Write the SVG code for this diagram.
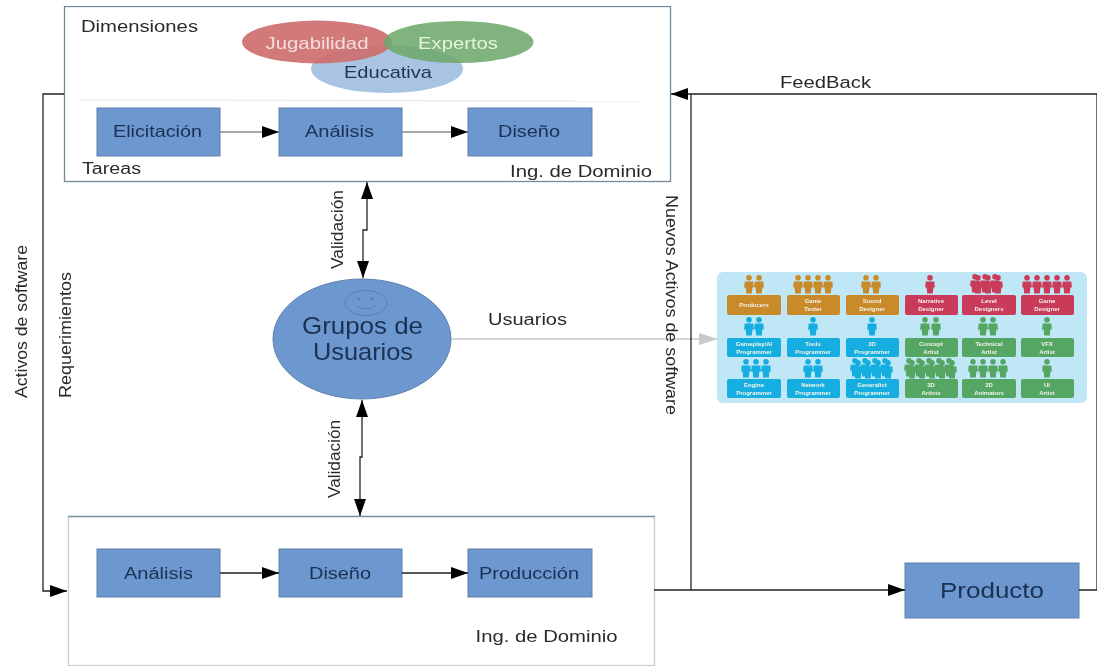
<svg xmlns="http://www.w3.org/2000/svg" width="1106" height="667" viewBox="0 0 1106 667">
<style>
text{font-family:"Liberation Sans",Arial,sans-serif}
.frame{fill:#fff;stroke:#6f8a9c;stroke-width:1.3}
.box{fill:#6c97cf;stroke:#5d80ac;stroke-width:1}
.bt{font-size:16px;fill:#1c3054;text-anchor:middle}
.lbl{font-size:16px;fill:#2b2b2b}
.ln{fill:none;stroke:#222;stroke-width:1.3}
.gl{fill:none;stroke:#8a8a8a;stroke-width:1.5}
.cap{font-size:6px;font-weight:bold;fill:#f4f4ea;text-anchor:middle}
.o{fill:#c98a2c}.r{fill:#c93a58}.c{fill:#15aee0}.g{fill:#55a564}
</style>
<defs>
<marker id="a" markerUnits="userSpaceOnUse" markerWidth="18" markerHeight="14" refX="17" refY="7" orient="auto-start-reverse"><path d="M0 1L17 7L0 13Z" fill="#000"/></marker>
<marker id="ag" markerUnits="userSpaceOnUse" markerWidth="20" markerHeight="14" refX="19" refY="7" orient="auto"><path d="M0 1L19 7L0 13Z" fill="#c9c9c9"/></marker>
<path id="p" d="M0 0a2.8 2.800 0 1 1 0 5.600a2.800 2.800 0 1 1 0-5.600ZM-4.300 6.500h8.600l.6 6h-1.500l-.6 6h-5.600l-.6-6h-1.500Z"/>
<filter id="soft" x="-5%" y="-5%" width="110%" height="110%"><feGaussianBlur stdDeviation="0.75"/></filter>
<filter id="jpeg" x="0" y="0" width="100%" height="100%"><feGaussianBlur stdDeviation="0.3"/></filter>
</defs>
<rect width="1106" height="667" fill="#fff"/>
<g filter="url(#jpeg)">
<g id="dominio-superior">
<rect class="frame" x="64.500" y="6.500" width="606" height="175"/>
<line x1="80" y1="100" x2="640" y2="101" stroke="#eeeeee" stroke-width="1.500"/>
<text class="lbl" x="81" y="32" textLength="117" lengthAdjust="spacingAndGlyphs">Dimensiones</text>
<text class="lbl" x="82" y="174" textLength="59" lengthAdjust="spacingAndGlyphs">Tareas</text>
<text class="lbl" x="510" y="177" textLength="142" lengthAdjust="spacingAndGlyphs">Ing. de Dominio</text>
</g>
<g id="educativa"><ellipse cx="387" cy="69" rx="76" ry="24" fill="#a9c4e2"/></g>
<g id="jugabilidad"><ellipse cx="317" cy="42" rx="75" ry="21.500" fill="#cf6f6f" opacity=".93"/><text x="317" y="49" text-anchor="middle" font-size="17" fill="#f3dede" textLength="103" lengthAdjust="spacingAndGlyphs">Jugabilidad</text></g>
<g id="expertos"><ellipse cx="458.500" cy="42" rx="75" ry="21" fill="#6ea86b" opacity=".88"/><text x="458" y="49" text-anchor="middle" font-size="17" fill="#e6f3df" textLength="80" lengthAdjust="spacingAndGlyphs">Expertos</text></g>
<text class="bt" x="388" y="78" textLength="88" lengthAdjust="spacingAndGlyphs" style="fill:#1f3558;font-size:17px">Educativa</text>
<g id="elicitacion"><rect class="box" x="97" y="108" width="123" height="48"/><text class="bt" x="157.500" y="137" textLength="89" lengthAdjust="spacingAndGlyphs">Elicitación</text></g>
<g id="analisis-1"><rect class="box" x="279" y="108" width="123" height="48"/><text class="bt" x="339.500" y="137" textLength="69" lengthAdjust="spacingAndGlyphs">Análisis</text></g>
<g id="diseno-1"><rect class="box" x="468" y="108" width="124" height="48"/><text class="bt" x="529" y="137" textLength="62" lengthAdjust="spacingAndGlyphs">Diseño</text></g>

<g id="dominio-inferior">
<rect class="frame" x="68.500" y="516.500" width="586" height="149" style="stroke:#c4ced4"/>
<line x1="68" y1="516.500" x2="655" y2="516.500" stroke="#7d929f" stroke-width="1.300"/>
<text class="lbl" x="475.500" y="642" textLength="142" lengthAdjust="spacingAndGlyphs">Ing. de Dominio</text>
</g>
<g id="analisis-2"><rect class="box" x="97" y="549" width="123" height="48"/><text class="bt" x="158.500" y="579" textLength="69" lengthAdjust="spacingAndGlyphs">Análisis</text></g>
<g id="diseno-2"><rect class="box" x="279" y="549" width="123" height="48"/><text class="bt" x="340" y="579" textLength="62" lengthAdjust="spacingAndGlyphs">Diseño</text></g>
<g id="produccion"><rect class="box" x="468" y="549" width="124" height="48"/><text class="bt" x="529" y="579" textLength="100" lengthAdjust="spacingAndGlyphs">Producción</text></g>
<g id="producto"><rect class="box" x="905" y="563" width="174" height="55"/><text x="992" y="598" text-anchor="middle" font-size="22" fill="#1c3054" textLength="104" lengthAdjust="spacingAndGlyphs">Producto</text></g>

<g id="grupos-de-usuarios">
<ellipse cx="362" cy="339" rx="89" ry="60" fill="#6c97cf" stroke="#5d80ac"/>
<ellipse cx="366" cy="303" rx="21" ry="12.500" fill="none" stroke="#5580b8" stroke-width="1"/>
<circle cx="359" cy="299" r="1.300" fill="#5580b8"/><circle cx="372" cy="299" r="1.300" fill="#5580b8"/>
<path d="M357 306Q366 312 375 306" fill="none" stroke="#5580b8"/>
<text x="362.500" y="334" text-anchor="middle" font-size="24" fill="#1c3054" textLength="121" lengthAdjust="spacingAndGlyphs">Grupos de</text>
<text x="363" y="360" text-anchor="middle" font-size="24" fill="#1c3054" textLength="100" lengthAdjust="spacingAndGlyphs">Usuarios</text>
</g>

<g id="conectores">
<path class="gl" d="M220 132H279" marker-end="url(#a)"/>
<path class="gl" d="M402 132H468" marker-end="url(#a)"/>
<path class="ln" d="M220 573H279" marker-end="url(#a)"/>
<path class="ln" d="M402 573H468" marker-end="url(#a)"/>
<path class="ln" d="M367 182V230H363V278" marker-start="url(#a)" marker-end="url(#a)"/>
<path class="ln" d="M362 400V457H360V516" marker-start="url(#a)" marker-end="url(#a)"/>
<path d="M452 339H718" fill="none" stroke="#c9c9c9" stroke-width="1.600" marker-end="url(#ag)"/>
<path class="ln" d="M64 94H43V591H67" marker-end="url(#a)"/>
<path class="ln" d="M654 590H905" marker-end="url(#a)"/>
<path class="ln" d="M691 590V94"/>
<path class="ln" d="M1079 590H1097V94H671" marker-end="url(#a)"/>
</g>

<g id="etiquetas">
<text class="lbl" x="780" y="88" textLength="91" lengthAdjust="spacingAndGlyphs">FeedBack</text>
<text class="lbl" x="488" y="325" textLength="79" lengthAdjust="spacingAndGlyphs">Usuarios</text>
<text class="lbl" transform="translate(343 269) rotate(-90)" textLength="79" lengthAdjust="spacingAndGlyphs">Validación</text>
<text class="lbl" transform="translate(340 498) rotate(-90)" textLength="78" lengthAdjust="spacingAndGlyphs">Validación</text>
<text class="lbl" transform="translate(27 398) rotate(-90)" textLength="153" lengthAdjust="spacingAndGlyphs">Activos de software</text>
<text class="lbl" transform="translate(71 398) rotate(-90)" textLength="126" lengthAdjust="spacingAndGlyphs">Requerimientos</text>
<text class="lbl" transform="translate(666 195) rotate(90)" textLength="220" lengthAdjust="spacingAndGlyphs">Nuevos Activos de software</text>
</g>

<g id="roles" filter="url(#soft)">
<rect x="717" y="272" width="370" height="131" rx="6" fill="#bfe7f5"/>
<g class="o">
<rect x="727" y="295" width="54" height="20" rx="2"/><rect x="787" y="295" width="53" height="20" rx="2"/><rect x="846" y="295" width="53" height="20" rx="2"/>
<use href="#p" x="749" y="275"/><use href="#p" x="759" y="275"/>
<use href="#p" x="798" y="275"/><use href="#p" x="808" y="275"/><use href="#p" x="818" y="275"/><use href="#p" x="828" y="275"/>
<use href="#p" x="866" y="275"/><use href="#p" x="876" y="275"/>
</g>
<g class="r">
<rect x="905" y="295" width="53" height="20" rx="2"/><rect x="962" y="295" width="54" height="20" rx="2"/><rect x="1021" y="295" width="53" height="20" rx="2"/>
<use href="#p" x="930" y="275"/>
<use href="#p" x="975" y="274"/><use href="#p" x="985" y="274"/><use href="#p" x="995" y="274"/>
<use href="#p" x="978" y="275"/><use href="#p" x="988" y="275"/><use href="#p" x="998" y="275"/>
<use href="#p" x="1027" y="275"/><use href="#p" x="1037" y="275"/><use href="#p" x="1047" y="275"/><use href="#p" x="1057" y="275"/><use href="#p" x="1067" y="275"/>
</g>
<g class="c">
<rect x="727" y="338" width="54" height="19" rx="2"/><rect x="787" y="338" width="53" height="19" rx="2"/><rect x="846" y="338" width="53" height="19" rx="2"/>
<rect x="727" y="379" width="54" height="19" rx="2"/><rect x="787" y="379" width="53" height="19" rx="2"/><rect x="846" y="379" width="53" height="19" rx="2"/>
<use href="#p" x="749" y="317"/><use href="#p" x="759" y="317"/><use href="#p" x="813" y="317"/><use href="#p" x="872" y="317"/>
<use href="#p" x="746" y="359"/><use href="#p" x="756" y="359"/><use href="#p" x="766" y="359"/>
<use href="#p" x="808" y="359"/><use href="#p" x="818" y="359"/>
<use href="#p" x="855" y="358"/><use href="#p" x="865" y="358"/><use href="#p" x="875" y="358"/><use href="#p" x="885" y="358"/>
<use href="#p" x="858" y="360"/><use href="#p" x="868" y="360"/><use href="#p" x="878" y="360"/><use href="#p" x="888" y="360"/>
</g>
<g class="g">
<rect x="905" y="338" width="53" height="19" rx="2"/><rect x="962" y="338" width="54" height="19" rx="2"/><rect x="1021" y="338" width="53" height="19" rx="2"/>
<rect x="905" y="379" width="53" height="19" rx="2"/><rect x="962" y="379" width="54" height="19" rx="2"/><rect x="1021" y="379" width="53" height="19" rx="2"/>
<use href="#p" x="925" y="317"/><use href="#p" x="936" y="317"/><use href="#p" x="983" y="317"/><use href="#p" x="993" y="317"/><use href="#p" x="1047" y="317"/>
<use href="#p" x="909" y="358"/><use href="#p" x="919" y="358"/><use href="#p" x="929" y="358"/><use href="#p" x="939" y="358"/><use href="#p" x="949" y="358"/>
<use href="#p" x="912" y="360"/><use href="#p" x="922" y="360"/><use href="#p" x="932" y="360"/><use href="#p" x="942" y="360"/><use href="#p" x="952" y="360"/>
<use href="#p" x="973" y="359"/><use href="#p" x="983" y="359"/><use href="#p" x="993" y="359"/><use href="#p" x="1003" y="359"/><use href="#p" x="1047" y="359"/>
</g>
<g>
<text class="cap" x="754" y="307">Producers</text>
<text class="cap" x="813" y="303">Game</text><text class="cap" x="813" y="311">Tester</text>
<text class="cap" x="872" y="303">Sound</text><text class="cap" x="872" y="311">Designer</text>
<text class="cap" x="931" y="303">Narrative</text><text class="cap" x="931" y="311">Designer</text>
<text class="cap" x="989" y="303">Level</text><text class="cap" x="989" y="311">Designers</text>
<text class="cap" x="1047" y="303">Game</text><text class="cap" x="1047" y="311">Designer</text>
<text class="cap" x="754" y="346">Gameplay/AI</text><text class="cap" x="754" y="354">Programmer</text>
<text class="cap" x="813" y="346">Tools</text><text class="cap" x="813" y="354">Programmer</text>
<text class="cap" x="872" y="346">3D</text><text class="cap" x="872" y="354">Programmer</text>
<text class="cap" x="931" y="346">Concept</text><text class="cap" x="931" y="354">Artist</text>
<text class="cap" x="989" y="346">Technical</text><text class="cap" x="989" y="354">Artist</text>
<text class="cap" x="1047" y="346">VFX</text><text class="cap" x="1047" y="354">Artist</text>
<text class="cap" x="754" y="387">Engine</text><text class="cap" x="754" y="395">Programmer</text>
<text class="cap" x="813" y="387">Network</text><text class="cap" x="813" y="395">Programmer</text>
<text class="cap" x="872" y="387">Generalist</text><text class="cap" x="872" y="395">Programmer</text>
<text class="cap" x="931" y="387">3D</text><text class="cap" x="931" y="395">Artists</text>
<text class="cap" x="989" y="387">2D</text><text class="cap" x="989" y="395">Animators</text>
<text class="cap" x="1047" y="387">UI</text><text class="cap" x="1047" y="395">Artist</text>
</g>
</g>
</g>
</svg>
